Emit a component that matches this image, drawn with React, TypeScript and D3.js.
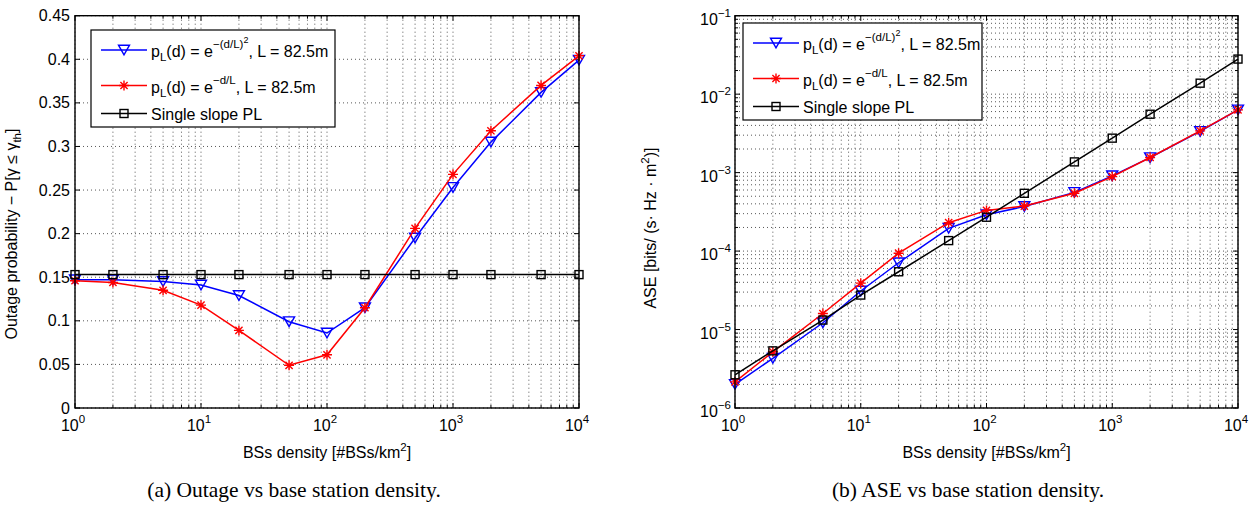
import React from 'react';
import * as d3 from 'd3';

// BS density (x axis), shared by both panels
const density = [1, 2, 5, 10, 20, 50, 100, 200, 500, 1000, 2000, 5000, 10000];

// (a) outage probability
const outageGauss = [0.147, 0.147, 0.145, 0.141, 0.129, 0.099, 0.086, 0.115, 0.195, 0.253, 0.305, 0.362, 0.399];
const outageExp = [0.146, 0.144, 0.135, 0.118, 0.089, 0.049, 0.061, 0.115, 0.206, 0.268, 0.318, 0.370, 0.404];
const outageSingle = [0.153, 0.153, 0.153, 0.153, 0.153, 0.153, 0.153, 0.153, 0.153, 0.153, 0.153, 0.153, 0.153];

// (b) area spectral efficiency
const aseGauss = [2.0e-6, 4.3e-6, 1.22e-5, 3.1e-5, 7.1e-5, 1.95e-4, 2.9e-4, 3.7e-4, 5.6e-4, 9.1e-4, 1.55e-3, 3.35e-3, 6.3e-3];
const aseExp = [2.15e-6, 5.2e-6, 1.6e-5, 3.9e-5, 9.4e-5, 2.3e-4, 3.3e-4, 3.75e-4, 5.45e-4, 8.9e-4, 1.56e-3, 3.4e-3, 6.3e-3];
const aseSingle = [2.65e-6, 5.35e-6, 1.32e-5, 2.75e-5, 5.45e-5, 1.36e-4, 2.7e-4, 5.45e-4, 1.37e-3, 2.75e-3, 5.55e-3, 1.38e-2, 2.8e-2];

const outageTicks = [0, 0.05, 0.1, 0.15, 0.2, 0.25, 0.3, 0.35, 0.4, 0.45];
const xDecades = [0, 1, 2, 3, 4];
const aseDecades = [-6, -5, -4, -3, -2, -1];
const captions = ['(a) Outage vs base station density.', '(b) ASE vs base station density.'];

const FONT = 'Liberation Sans, Arial, Helvetica, sans-serif';
const FS = 16;
const SUP = 11.5;
const TOP = 15.7, BOTTOM = 408;

function minorLog(d0: number, d1: number) {
  const out: number[] = [];
  for (let e = d0; e < d1; e++) for (let m = 2; m <= 9; m++) out.push(m * Math.pow(10, e));
  return out;
}

const fmt = (v: number) => (v === 0 ? '0' : String(+v.toFixed(2)));
const minus = (e: number) => (e < 0 ? '\u2212' + Math.abs(e) : String(e));

function Marker({ kind, x, y, color }: { kind: string; x: number; y: number; color: string }) {
  if (kind === 'tri') {
    const w = 5.5, h = 4.8;
    return <path d={`M${x - w},${y - h}L${x + w},${y - h}L${x},${y + h}Z`} fill="none" stroke={color} strokeWidth={1.4} />;
  }
  if (kind === 'star') {
    const r = 5, q = 3.6;
    return (
      <path d={`M${x - r},${y}L${x + r},${y}M${x},${y - r}L${x},${y + r}M${x - q},${y - q}L${x + q},${y + q}M${x - q},${y + q}L${x + q},${y - q}`}
        stroke={color} strokeWidth={1.4} fill="none" />
    );
  }
  return <rect x={x - 4} y={y - 4} width={8} height={8} fill="none" stroke={color} strokeWidth={1.4} />;
}

function LegendRows({ x, y, w }: { x: number; y: number; w: number }) {
  const rows = [
    { color: '#0000ff', kind: 'tri', dy: 20 },
    { color: '#ff0000', kind: 'star', dy: 55.5 },
    { color: '#000000', kind: 'sq', dy: 83.5 },
  ];
  return (
    <g>
      <rect x={x} y={y} width={w} height={97} fill="#fff" stroke="#000" strokeWidth={1.2} />
      {rows.map((r, i) => (
        <g key={i}>
          <line x1={x + 10} x2={x + 56} y1={y + r.dy} y2={y + r.dy} stroke={r.color} strokeWidth={1.5} />
          <Marker kind={r.kind} x={x + 33} y={y + r.dy} color={r.color} />
        </g>
      ))}
      <text x={x + 60} y={y + 20 + 7} fontFamily={FONT} fontSize={FS}>
        <tspan>p</tspan><tspan dy={4} fontSize={SUP}>L</tspan>
        <tspan dy={-4}>(d) = e</tspan>
        <tspan dy={-9} fontSize={SUP}>{'\u2212(d/L)'}</tspan>
        <tspan dy={-5} fontSize={9}>2</tspan>
        <tspan dy={14}>, L = 82.5m</tspan>
      </text>
      <text x={x + 60} y={y + 55.5 + 7} fontFamily={FONT} fontSize={FS}>
        <tspan>p</tspan><tspan dy={4} fontSize={SUP}>L</tspan>
        <tspan dy={-4}>(d) = e</tspan>
        <tspan dy={-9} fontSize={SUP}>{'\u2212d/L'}</tspan>
        <tspan dy={9}>, L = 82.5m</tspan>
      </text>
      <text x={x + 60} y={y + 83.5 + 6} fontFamily={FONT} fontSize={FS}>Single slope PL</text>
    </g>
  );
}

type Series = { values: number[]; color: string; kind: string };

function Panel({ x0, x1, log, series, legend }: { x0: number; x1: number; log: boolean; series: Series[]; legend: [number, number, number] }) {
  const x = d3.scaleLog().domain([1, 1e4]).range([x0, x1]);
  const y: any = log
    ? d3.scaleLog().domain([1e-6, 1e-1]).range([BOTTOM, TOP])
    : d3.scaleLinear().domain([0, 0.45]).range([BOTTOM, TOP]);
  const xMinor = minorLog(0, 4);
  const xMajor = xDecades.map((e) => Math.pow(10, e));
  const yMajor = log ? aseDecades.map((e) => Math.pow(10, e)) : outageTicks;
  const yMinor = log ? minorLog(-6, -1) : [];
  const line = d3.line<number>().x((_, i) => x(density[i])).y((v) => y(v));
  const grid = { stroke: '#444', strokeWidth: 0.9, strokeDasharray: '1 3' } as any;
  const cx = (x0 + x1) / 2;
  const labelY = 234;
  return (
    <g>
      {/* grid */}
      {[...xMajor, ...xMinor].map((v, i) => (
        <line key={'gx' + i} x1={x(v)} x2={x(v)} y1={TOP} y2={BOTTOM} {...grid} />
      ))}
      {[...yMajor, ...yMinor].map((v, i) => (
        <line key={'gy' + i} x1={x0} x2={x1} y1={y(v)} y2={y(v)} {...grid} />
      ))}
      {/* ticks */}
      {xMajor.map((v, i) => (
        <g key={'tx' + i} stroke="#000" strokeWidth={1}>
          <line x1={x(v)} x2={x(v)} y1={BOTTOM} y2={BOTTOM - 5} />
          <line x1={x(v)} x2={x(v)} y1={TOP} y2={TOP + 5} />
        </g>
      ))}
      {xMinor.map((v, i) => (
        <g key={'tmx' + i} stroke="#000" strokeWidth={1}>
          <line x1={x(v)} x2={x(v)} y1={BOTTOM} y2={BOTTOM - 3} />
          <line x1={x(v)} x2={x(v)} y1={TOP} y2={TOP + 3} />
        </g>
      ))}
      {yMajor.map((v, i) => (
        <g key={'ty' + i} stroke="#000" strokeWidth={1}>
          <line x1={x0} x2={x0 + 5} y1={y(v)} y2={y(v)} />
          <line x1={x1} x2={x1 - 5} y1={y(v)} y2={y(v)} />
        </g>
      ))}
      {yMinor.map((v, i) => (
        <g key={'tmy' + i} stroke="#000" strokeWidth={1}>
          <line x1={x0} x2={x0 + 3} y1={y(v)} y2={y(v)} />
          <line x1={x1} x2={x1 - 3} y1={y(v)} y2={y(v)} />
        </g>
      ))}
      {/* series */}
      {series.map((s, si) => (
        <g key={'s' + si}>
          <path d={line(s.values) || ''} fill="none" stroke={s.color} strokeWidth={1.5} />
          {s.values.map((v, i) => (
            <Marker key={i} kind={s.kind} x={x(density[i])} y={y(v)} color={s.color} />
          ))}
        </g>
      ))}
      <rect x={x0} y={TOP} width={x1 - x0} height={BOTTOM - TOP} fill="none" stroke="#000" strokeWidth={1.4} />
      <LegendRows x={legend[0]} y={legend[1]} w={legend[2]} />
      {/* tick labels */}
      {xDecades.map((e) => (
        <text key={'lx' + e} x={x(Math.pow(10, e)) - 2} y={431} textAnchor="middle" fontFamily={FONT} fontSize={FS}>
          <tspan>10</tspan><tspan dy={-8} fontSize={SUP}>{e}</tspan>
        </text>
      ))}
      {log
        ? aseDecades.map((e) => (
            <text key={'ly' + e} x={x0 - 4} y={y(Math.pow(10, e)) + 9} textAnchor="end" fontFamily={FONT} fontSize={FS}>
              <tspan>10</tspan><tspan dy={-8} fontSize={SUP}>{minus(e)}</tspan>
            </text>
          ))
        : outageTicks.map((v) => (
            <text key={'ly' + v} x={x0 - 5} y={y(v) + 5.5} textAnchor="end" fontFamily={FONT} fontSize={FS}>{fmt(v)}</text>
          ))}
      {/* axis labels */}
      <text x={cx} y={458} textAnchor="middle" fontFamily={FONT} fontSize={FS}>
        <tspan>BSs density [#BSs/km</tspan><tspan dy={-7} fontSize={SUP}>2</tspan><tspan dy={7}>]</tspan>
      </text>
      {log ? (
        <text transform={`translate(${x0 - 79},${labelY - 6}) rotate(-90)`} textAnchor="middle" fontFamily={FONT} fontSize={FS}>
          <tspan>ASE [bits/ (s</tspan><tspan>{'\u00b7'} Hz {'\u00b7'} m</tspan>
          <tspan dy={-7} fontSize={SUP}>2</tspan><tspan dy={7}>)]</tspan>
        </text>
      ) : (
        <text transform={`translate(${x0 - 58},${labelY}) rotate(-90)`} textAnchor="middle" fontFamily={FONT} fontSize={FS}>
          <tspan>{'Outage probability \u2212 P[\u03b3 \u2264 \u03b3'}</tspan>
          <tspan dy={4} fontSize={SUP}>th</tspan><tspan dy={-4}>]</tspan>
        </text>
      )}
    </g>
  );
}

export default function App() {
  return (
    <svg width={1254} height={510} style={{ position: 'absolute', left: 0, top: 0, background: '#fff' }}>
      <rect width={1254} height={510} fill="#fff" />
      <Panel
        x0={75}
        x1={579}
        log={false}
        legend={[91, 30, 244]}
        series={[
          { values: outageGauss, color: '#0000ff', kind: 'tri' },
          { values: outageExp, color: '#ff0000', kind: 'star' },
          { values: outageSingle, color: '#000000', kind: 'sq' },
        ]}
      />
      <Panel
        x0={735}
        x1={1238}
        log={true}
        legend={[743, 23, 239]}
        series={[
          { values: aseGauss, color: '#0000ff', kind: 'tri' },
          { values: aseExp, color: '#ff0000', kind: 'star' },
          { values: aseSingle, color: '#000000', kind: 'sq' },
        ]}
      />
      <text x={294} y={497} textAnchor="middle" fontFamily="Liberation Serif, Times New Roman, serif" fontSize={21.5}>{captions[0]}</text>
      <text x={968} y={497} textAnchor="middle" fontFamily="Liberation Serif, Times New Roman, serif" fontSize={21.5}>{captions[1]}</text>
    </svg>
  );
}
